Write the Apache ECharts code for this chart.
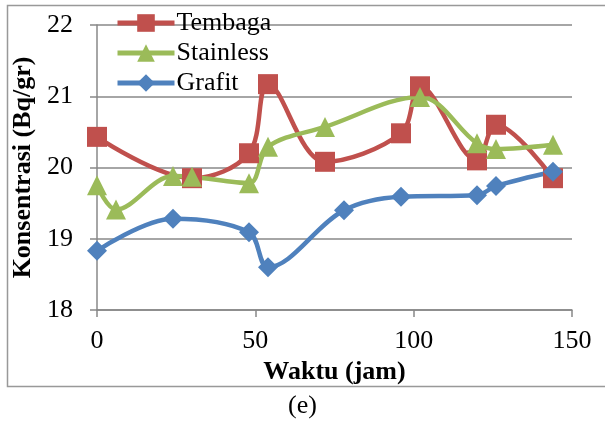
<!DOCTYPE html>
<html><head><meta charset="utf-8">
<script src="https://cdn.jsdelivr.net/npm/echarts@6/dist/echarts.min.js"></script>
<style>html,body{margin:0;padding:0;background:#fff}#c{width:605px;height:423px}</style>
</head><body><div id="c"></div>
<script>
var tembagaX = [0, 30, 48, 54, 72, 96, 102, 120, 126, 144];
var tembagaY = [20.43, 19.85, 20.2, 21.17, 20.08, 20.48, 21.14, 20.1, 20.6, 19.85];
var stainlessX = [0, 6, 24, 30, 48, 54, 72, 102, 120, 126, 144];
var stainlessY = [19.75, 19.41, 19.88, 19.87, 19.78, 20.29, 20.57, 20.99, 20.34, 20.26, 20.32];
var grafitX = [0, 24, 48, 54, 78, 96, 120, 126, 144];
var grafitY = [18.83, 19.28, 19.09, 18.6, 19.4, 19.59, 19.61, 19.74, 19.94];
var seriesNames = ['Tembaga', 'Stainless', 'Grafit'];

function pairs(xs, ys){ return xs.map(function(x,i){return [x, ys[i]];}); }
var font = 'Liberation Serif, Times New Roman, serif';
var chart = echarts.init(document.getElementById('c'));
chart.setOption({
  animation: false,
  graphic: [
    {type:'rect', shape:{x:7.5, y:5.5, width:620, height:381}, style:{fill:'none', stroke:'#999', lineWidth:1.5}, z:-10},
    {type:'text', left:'center', top:393, style:{text:'(e)', font:'26px ' + font, fill:'#000'}}
  ],
  grid: {left:97, right:33, top:25, bottom:113, containLabel:false},
  legend: {
    orient:'vertical', left:110, top:5, itemGap:4, itemWidth:57, itemHeight:22,
    textStyle:{fontFamily:font, fontSize:26, lineHeight:26, color:'#000', padding:[0,0,0,-3]},
    lineStyle:{width:5},
    data: seriesNames
  },
  xAxis: {
    type:'value', min:0, max:150, interval:50,
    name:'Waktu (jam)', nameLocation:'middle', nameGap:45,
    nameTextStyle:{fontFamily:font, fontSize:26, fontWeight:'bold', color:'#000'},
    axisLine:{show:true, lineStyle:{color:'#888', width:1.5}},
    axisTick:{show:true, length:7, lineStyle:{color:'#888', width:1.5}},
    axisLabel:{fontFamily:font, fontSize:26, color:'#000', margin:18},
    splitLine:{show:false}
  },
  yAxis: {
    type:'value', min:18, max:22, interval:1,
    name:'Konsentrasi (Bq/gr)', nameLocation:'middle', nameGap:56,
    nameTextStyle:{fontFamily:font, fontSize:26, fontWeight:'bold', color:'#000'},
    axisLine:{show:true, lineStyle:{color:'#888', width:1.5}},
    axisTick:{show:true, length:7, lineStyle:{color:'#888', width:1.5}},
    axisLabel:{fontFamily:font, fontSize:26, color:'#000', margin:24},
    splitLine:{show:true, lineStyle:{color:'#888', width:1.5}}
  },
  series: [
    {name:seriesNames[0], type:'line', smooth:0.35, data:pairs(tembagaX, tembagaY),
     symbol:'rect', symbolSize:20, lineStyle:{width:4.5, color:'#C0504D'}, itemStyle:{color:'#C0504D'}},
    {name:seriesNames[1], type:'line', smooth:0.35, data:pairs(stainlessX, stainlessY),
     symbol:'triangle', symbolSize:20, lineStyle:{width:4.5, color:'#9BBB59'}, itemStyle:{color:'#9BBB59'}},
    {name:seriesNames[2], type:'line', smooth:0.35, data:pairs(grafitX, grafitY),
     symbol:'diamond', symbolSize:20, lineStyle:{width:4.5, color:'#4F81BD'}, itemStyle:{color:'#4F81BD'}}
  ]
});
</script></body></html>
